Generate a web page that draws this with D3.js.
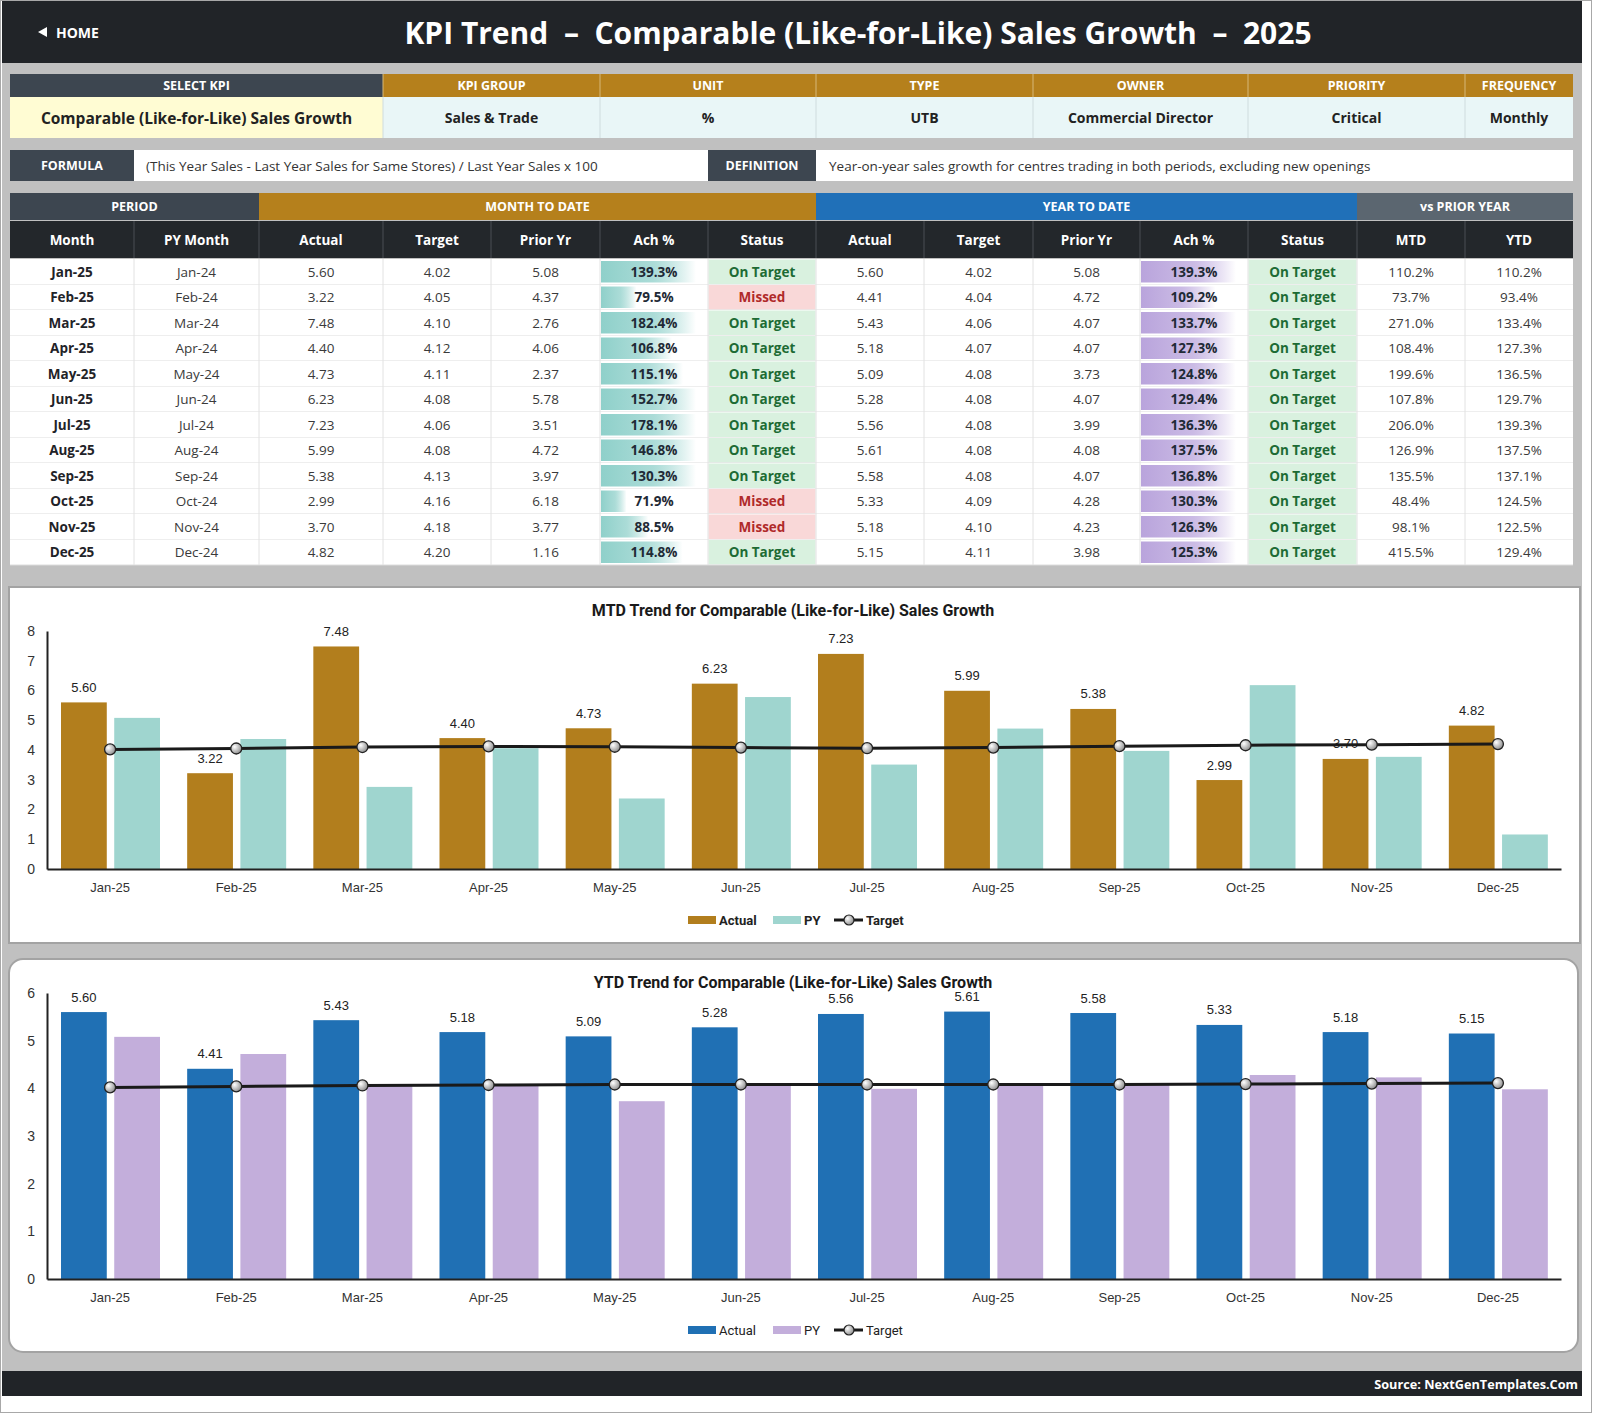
<!DOCTYPE html>
<html><head><meta charset="utf-8">
<script src="https://cdn.jsdelivr.net/npm/d3@7/dist/d3.min.js"></script>
<style>
body{margin:0;background:#fff}
svg{display:block}
text{font-family:'Open Sans','Noto Sans',Lato,sans-serif}
.ch text{font-family:'Liberation Sans',Arial,sans-serif}
</style>
</head><body>
<svg id="c" width="1600" height="1414"></svg>
<script>
// ---------------- DATA ----------------
const months   = ["Jan-25","Feb-25","Mar-25","Apr-25","May-25","Jun-25","Jul-25","Aug-25","Sep-25","Oct-25","Nov-25","Dec-25"];
const pyMonths = ["Jan-24","Feb-24","Mar-24","Apr-24","May-24","Jun-24","Jul-24","Aug-24","Sep-24","Oct-24","Nov-24","Dec-24"];
const mtdActual = [5.60,3.22,7.48,4.40,4.73,6.23,7.23,5.99,5.38,2.99,3.70,4.82];
const mtdTarget = [4.02,4.05,4.10,4.12,4.11,4.08,4.06,4.08,4.13,4.16,4.18,4.20];
const mtdPrior  = [5.08,4.37,2.76,4.06,2.37,5.78,3.51,4.72,3.97,6.18,3.77,1.16];
const mtdAch    = [139.3,79.5,182.4,106.8,115.1,152.7,178.1,146.8,130.3,71.9,88.5,114.8];
const mtdStatus = ["On Target","Missed","On Target","On Target","On Target","On Target","On Target","On Target","On Target","Missed","Missed","On Target"];
const ytdActual = [5.60,4.41,5.43,5.18,5.09,5.28,5.56,5.61,5.58,5.33,5.18,5.15];
const ytdTarget = [4.02,4.04,4.06,4.07,4.08,4.08,4.08,4.08,4.08,4.09,4.10,4.11];
const ytdPrior  = [5.08,4.72,4.07,4.07,3.73,4.07,3.99,4.08,4.07,4.28,4.23,3.98];
const ytdAch    = [139.3,109.2,133.7,127.3,124.8,129.4,136.3,137.5,136.8,130.3,126.3,125.3];
const ytdStatus = ["On Target","On Target","On Target","On Target","On Target","On Target","On Target","On Target","On Target","On Target","On Target","On Target"];
const vsPyMtd = [110.2,73.7,271.0,108.4,199.6,107.8,206.0,126.9,135.5,48.4,98.1,415.5];
const vsPyYtd = [110.2,93.4,133.4,127.3,136.5,129.7,139.3,137.5,137.1,124.5,122.5,129.4];
const infoHeaders = ["SELECT KPI","KPI GROUP","UNIT","TYPE","OWNER","PRIORITY","FREQUENCY"];
const infoValues  = ["Comparable (Like-for-Like) Sales Growth","Sales & Trade","%","UTB","Commercial Director","Critical","Monthly"];
const groupHeaders = ["PERIOD","MONTH TO DATE","YEAR TO DATE","vs PRIOR YEAR"];
const colHeaders = ["Month","PY Month","Actual","Target","Prior Yr","Ach %","Status","Actual","Target","Prior Yr","Ach %","Status","MTD","YTD"];
const pageTitle = "KPI Trend  \u2013  Comparable (Like-for-Like) Sales Growth  \u2013  2025";
const formulaText = "(This Year Sales - Last Year Sales for Same Stores) / Last Year Sales x 100";
const definitionText = "Year-on-year sales growth for centres trading in both periods, excluding new openings";
const seriesNames = ["Actual","PY","Target"];
const mtdTicks = [0,1,2,3,4,5,6,7,8];
const ytdTicks = [0,1,2,3,4,5,6];

// ---------------- STYLE / LAYOUT ----------------
const C = {dark:"#212428", slate:"#3d4650", gold:"#b5801c", blue:"#2070b8", grayHdr:"#5b6670",
  colHdr:"#23272b", bg:"#c0c0c0", yellow:"#fffcd3", cyan:"#e9f6f7"};
const svg = d3.select("#c");
const f2 = d3.format(".2f"), f1 = d3.format(".1f");

const defs = svg.append("defs");
function lg(id, c1){
  const g = defs.append("linearGradient").attr("id",id).attr("x1","0").attr("x2","1").attr("y1","0").attr("y2","0");
  g.append("stop").attr("offset","0").attr("stop-color",c1);
  g.append("stop").attr("offset","0.55").attr("stop-color",c1).attr("stop-opacity",0.75);
  g.append("stop").attr("offset","1").attr("stop-color","#ffffff");
}
lg("gTeal","#8fd0ca"); lg("gPurp","#b9a4dc");
const rg = defs.append("radialGradient").attr("id","mk").attr("cx","0.35").attr("cy","0.35").attr("r","0.7");
rg.append("stop").attr("offset","0").attr("stop-color","#ffffff");
rg.append("stop").attr("offset","1").attr("stop-color","#8a8a8a");

// page background
svg.append("rect").attr("x",0).attr("y",0).attr("width",1600).attr("height",1414).attr("fill","#fff");
svg.append("rect").attr("x",2).attr("y",1).attr("width",1580).attr("height",1395).attr("fill",C.bg);
svg.append("rect").attr("x",0.5).attr("y",0.5).attr("width",1591).attr("height",1412).attr("fill","none").attr("stroke","#a8a8a8");

// header
svg.append("rect").attr("x",2).attr("y",1).attr("width",1580).attr("height",62).attr("fill",C.dark);
svg.append("path").attr("d","M47,27 L38,32 L47,37 Z").attr("fill","#fff");
svg.append("text").attr("x",56).attr("y",32).attr("dominant-baseline","central")
  .attr("fill","#fff").attr("font-weight",700).attr("font-size",14).text("HOME");
svg.append("text").attr("x",858).attr("y",32).attr("dominant-baseline","central").attr("text-anchor","middle")
  .attr("fill","#fff").attr("font-weight",700).attr("font-size",30).style("white-space","pre").text(pageTitle);

// footer
svg.append("rect").attr("x",2).attr("y",1371).attr("width",1580).attr("height",25).attr("fill",C.dark);
svg.append("text").attr("x",1578).attr("y",1384).attr("dominant-baseline","central").attr("text-anchor","end")
  .attr("fill","#fff").attr("font-weight",700).attr("font-size",12.7).text("Source: NextGenTemplates.Com");

function cell(x0,x1,y,h,fill,txt,opt={}){
  const g = svg.append("g");
  g.append("rect").attr("x",x0).attr("y",y).attr("width",x1-x0).attr("height",h).attr("fill",fill)
    .attr("stroke",opt.stroke||"none").attr("stroke-width",opt.sw||1);
  if(txt!==undefined){
    g.append("text").attr("x", opt.left? x0+opt.left : (x0+x1)/2).attr("y",y+h/2+(opt.dy||0))
      .attr("dominant-baseline","central").attr("text-anchor",opt.left?"start":"middle")
      .attr("fill",opt.color||"#fff").attr("font-weight",opt.weight||400).attr("font-size",opt.size||14).text(txt);
  }
  return g;
}

// info table
const infoX = [10,383,600,816,1033,1248,1465,1573];
infoHeaders.forEach((h,i)=>{
  cell(infoX[i],infoX[i+1],74,23,i===0?C.slate:C.gold,h,{weight:700,size:12.5});
  cell(infoX[i],infoX[i+1],97,41,i===0?C.yellow:C.cyan,infoValues[i],{weight:700,size:i===0?15.5:14,color:"#222"});
});
infoX.slice(1,-1).forEach(x=>{
  svg.append("line").attr("x1",x).attr("x2",x).attr("y1",74).attr("y2",97).attr("stroke","#d6b878").attr("stroke-width",1);
  svg.append("line").attr("x1",x).attr("x2",x).attr("y1",97).attr("y2",138).attr("stroke","#cfdcde").attr("stroke-width",1);
});

// formula row
cell(10,134,150,31,C.slate,"FORMULA",{weight:700,size:12.5});
cell(134,708,150,31,"#fff",formulaText,{left:12,color:"#333",size:13.5});
cell(708,816,150,31,C.slate,"DEFINITION",{weight:700,size:12.5});
cell(816,1573,150,31,"#fff",definitionText,{left:13,color:"#333",size:13.5});

// main table
const colX = [10,134,259,383,491,600,708,816,924,1033,1140,1248,1357,1465,1573];
const grp = [[0,2,C.slate],[2,7,C.gold],[7,12,C.blue],[12,14,C.grayHdr]];
grp.forEach((g,i)=>cell(colX[g[0]],colX[g[1]],193,27,g[2],groupHeaders[i],{weight:700,size:12.5}));
colHeaders.forEach((h,i)=>cell(colX[i],colX[i+1],221,37,C.colHdr,h,{weight:700,size:13.5}));
colX.slice(1,-1).forEach(x=>svg.append("line").attr("x1",x).attr("x2",x).attr("y1",221).attr("y2",258).attr("stroke","#4a4f55"));

const rowY0 = 259, rowH = 25.5;
const achW = d3.scaleLinear().domain([60,125]).range([10,95]).clamp(true);
months.forEach((m,i)=>{
  const y = rowY0 + i*rowH;
  svg.append("rect").attr("x",10).attr("y",y).attr("width",1563).attr("height",rowH).attr("fill","#fff");
  const vals = [m,pyMonths[i],f2(mtdActual[i]),f2(mtdTarget[i]),f2(mtdPrior[i]),null,null,
    f2(ytdActual[i]),f2(ytdTarget[i]),f2(ytdPrior[i]),null,null,f1(vsPyMtd[i])+"%",f1(vsPyYtd[i])+"%"];
  vals.forEach((v,c)=>{
    if(v!==null) cell(colX[c],colX[c+1],y,rowH,"none",v,{color:c===0?"#1f2328":"#3a3a3a",weight:c===0?700:400,size:13.5});
  });
  // ach bars
  [[5,mtdAch[i],"gTeal"],[10,ytdAch[i],"gPurp"]].forEach(([c,v,gid])=>{
    svg.append("rect").attr("x",colX[c]+1).attr("y",y+2).attr("width",achW(v)).attr("height",rowH-4).attr("fill",`url(#${gid})`);
    cell(colX[c],colX[c+1],y,rowH,"none",f1(v)+"%",{color:"#1f2a36",weight:700,size:13.5});
  });
  [[6,mtdStatus[i]],[11,ytdStatus[i]]].forEach(([c,s])=>{
    const ok = s==="On Target";
    cell(colX[c]+0.5,colX[c+1]-0.5,y+0.5,rowH-1,ok?"#d9f1df":"#f9d8d8",s,{color:ok?"#1d6b34":"#b02a2a",weight:700,size:13.5});
  });
  svg.append("line").attr("x1",10).attr("x2",1573).attr("y1",y+rowH).attr("y2",y+rowH).attr("stroke","#dcdcdc");
});
colX.slice(1,-1).forEach(x=>svg.append("line").attr("x1",x).attr("x2",x).attr("y1",259).attr("y2",259+12*rowH).attr("stroke","#e2e2e2"));

// ---------------- CHARTS ----------------
function chart(o){
  const g = svg.append("g").attr("class","ch");
  g.append("rect").attr("x",o.px0).attr("y",o.py0).attr("width",o.px1-o.px0).attr("height",o.py1-o.py0)
    .attr("rx",o.rx).attr("fill","#fff").attr("stroke","#a3a3a3").attr("stroke-width",2);
  const x = d3.scaleBand().domain(months).range([47,1561]);
  const inner = d3.scaleBand().domain(["A","P"]).range([14,113]).paddingInner(0.14);
  const y = d3.scaleLinear().domain([0,d3.max(o.ticks)]).range([o.y0,o.yTop]);

  g.append("text").attr("x",793).attr("y",o.titleY).attr("text-anchor","middle").attr("dominant-baseline","central")
    .attr("font-weight",700).attr("font-size",16).attr("fill","#1a1a1a").style("font-family","Roboto,'Liberation Sans',sans-serif")
    .text(o.title);

  // bars
  g.selectAll(".ba").data(o.actual).join("rect").attr("x",(d,i)=>x(months[i])+inner("A")).attr("width",inner.bandwidth())
    .attr("y",d=>y(d)).attr("height",d=>o.y0-y(d)).attr("fill",o.colA);
  g.selectAll(".bp").data(o.prior).join("rect").attr("x",(d,i)=>x(months[i])+inner("P")).attr("width",inner.bandwidth())
    .attr("y",d=>y(d)).attr("height",d=>o.y0-y(d)).attr("fill",o.colP);
  g.selectAll(".lb").data(o.actual).join("text").attr("x",(d,i)=>x(months[i])+inner("A")+inner.bandwidth()/2)
    .attr("y",d=>y(d)-15).attr("text-anchor","middle").attr("dominant-baseline","central")
    .attr("font-size",13).attr("fill","#222").text(d=>f2(d));

  // axes
  const ya = g.append("g").attr("transform","translate(47,0)").call(d3.axisLeft(y).tickValues(o.ticks).tickSize(0).tickPadding(12).tickFormat(d3.format("d")));
  ya.select(".domain").attr("stroke","#222").attr("stroke-width",2);
  ya.selectAll("text").attr("font-size",14).attr("fill","#333").style("font-family","'Liberation Sans',Arial,sans-serif");
  const xa = g.append("g").attr("transform",`translate(0,${o.y0})`).call(d3.axisBottom(x).tickSize(0).tickPadding(14));
  xa.select(".domain").attr("stroke","#222").attr("stroke-width",2);
  xa.selectAll("text").attr("font-size",13).attr("fill","#333").style("font-family","'Liberation Sans',Arial,sans-serif");

  // target line
  const cx = (d,i)=>x(months[i])+x.bandwidth()/2;
  g.append("path").datum(o.target).attr("d",d3.line().x(cx).y(d=>y(d))).attr("fill","none").attr("stroke","#1a1a1a").attr("stroke-width",3);
  g.selectAll(".mk").data(o.target).join("circle").attr("cx",cx).attr("cy",d=>y(d)).attr("r",5.5)
    .attr("fill","url(#mk)").attr("stroke","#222").attr("stroke-width",1.3);

  // legend
  const ly = o.legY, fw = o.legBold?700:400;
  g.append("rect").attr("x",688).attr("y",ly-4).attr("width",28).attr("height",8).attr("fill",o.colA);
  g.append("rect").attr("x",773).attr("y",ly-4).attr("width",28).attr("height",8).attr("fill",o.colP);
  g.append("line").attr("x1",834).attr("x2",863).attr("y1",ly).attr("y2",ly).attr("stroke","#1a1a1a").attr("stroke-width",3);
  g.append("circle").attr("cx",849).attr("cy",ly).attr("r",5).attr("fill","url(#mk)").attr("stroke","#222").attr("stroke-width",1.2);
  [[719,seriesNames[0]],[804,seriesNames[1]],[866,seriesNames[2]]].forEach(([lx,t])=>
    g.append("text").attr("x",lx).attr("y",ly).attr("dominant-baseline","central").attr("font-size",13)
      .attr("font-weight",fw).attr("fill","#222").style("font-family","Roboto,'Liberation Sans',sans-serif").text(t));
}

chart({px0:9,px1:1580,py0:587,py1:943,rx:0,y0:869,yTop:631,ticks:mtdTicks,actual:mtdActual,prior:mtdPrior,target:mtdTarget,
  colA:"#b27e1d",colP:"#9fd5cf",title:"MTD Trend for Comparable (Like-for-Like) Sales Growth",titleY:610,legY:920,legBold:true});
chart({px0:9,px1:1578,py0:959,py1:1352,rx:14,y0:1279,yTop:993,ticks:ytdTicks,actual:ytdActual,prior:ytdPrior,target:ytdTarget,
  colA:"#2070b4",colP:"#c3aedb",title:"YTD Trend for Comparable (Like-for-Like) Sales Growth",titleY:982,legY:1330,legBold:false});
</script>
</body></html>
